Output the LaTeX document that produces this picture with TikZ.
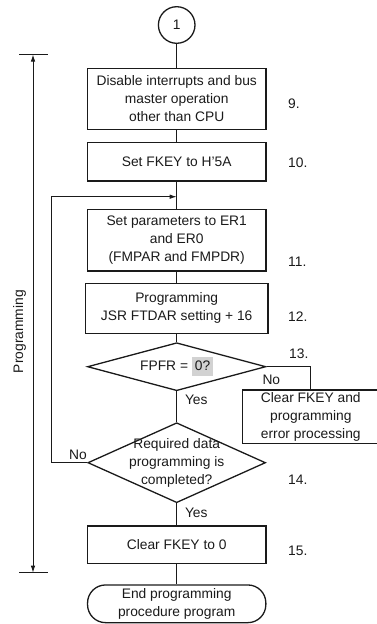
\documentclass[tikz,border=0pt]{standalone}
\usepackage{fontspec}
\setmainfont{Liberation Sans}
\usetikzlibrary{arrows.meta,shapes.geometric}
\definecolor{FlowInk}{HTML}{1A1A1A}
\definecolor{FlowMark}{HTML}{D2D2D2}
\newcommand{\hlmark}[1]{{\setlength{\fboxsep}{3pt}\colorbox{FlowMark}{\rule[-2.5pt]{0pt}{12.5pt}#1}}}
\begin{document}
\begin{tikzpicture}[
        x=1pt,y=-1pt,
        every node/.style={font=\fontsize{13.8}{18}\selectfont,text=FlowInk},
        box/.style={draw=FlowInk,line width=1.3pt,minimum width=178.3pt,align=center,inner sep=0pt},
        decision/.style={draw=FlowInk,line width=1.3pt,diamond,inner sep=0pt},
        terminal/.style={box,rounded corners=18pt},
        tag/.style={anchor=west,inner sep=0pt},
        flow/.style={draw=FlowInk,line width=0.9pt},
        back/.style={flow,-{Latex[length=7pt,width=4.5pt]}},
        span/.style={flow,{Latex[length=7pt,width=4.5pt]}-{Latex[length=7pt,width=4.5pt]}}
      ]
        \useasboundingbox (0,0) rectangle (377,624);
        \node[circle,draw=FlowInk,line width=1.3pt,minimum size=36.6pt,inner sep=0pt] (start) at (176.7,25) {1};
        \node[box,minimum height=61pt] (disable) at (176.7,98.8) {Disable interrupts and bus\\master operation\\other than CPU};
        \node[box,minimum height=38.3pt] (fkey) at (176.7,161.9) {Set FKEY to H'5A};
        \node[box,minimum height=61.7pt] (params) at (176.7,240.2) {Set parameters to ER1\\and ER0\\(FMPAR and FMPDR)};
        \node[box,minimum width=182.3pt,minimum height=50pt] (prog) at (176.7,308.3) {Programming\\JSR FTDAR setting + 16};
        \node[decision,minimum width=178.4pt,minimum height=48pt] (check) at (176.7,366.7) {};
        \node at (check) {FPFR = \hlmark{0?}};
        \node[box,minimum width=136.3pt,minimum height=53.7pt] (error) at (310.8,416.8) {Clear FKEY and\\programming\\error processing};
        \node[decision,minimum width=177.7pt,minimum height=80pt] (done) at (176.7,462.7) {};
        \node[align=center,inner sep=0pt] at (done) {Required data\\programming is\\completed?};
        \node[box,minimum height=37.3pt] (clear) at (176.7,544.7) {Clear FKEY to 0};
        \node[terminal,minimum height=37.7pt] (finish) at (176.7,603.8) {End programming\\procedure program};

        \coordinate (merge) at (176.7,196.7);
        \coordinate (loop) at (51,196.7);
        \coordinate (nobend) at (310.8,366.7);

        \draw[flow] (start) -- (disable);
        \draw[flow] (disable) -- (fkey);
        \draw[flow] (fkey) -- (params);
        \draw[flow] (params) -- (prog);
        \draw[flow] (prog) -- (check);
        \draw[flow] (check) -- (done);
        \draw[flow] (done) -- (clear);
        \draw[flow] (clear) -- (finish);
        \draw[flow] (check.east) -- (nobend) -- (error);
        \draw[back] (done.west) -| (loop) -- (merge);

        \node[tag] at (288,104) {9.};
        \node[tag] at (288,163) {10.};
        \node[tag] at (288,261.7) {11.};
        \node[tag] at (288,316.7) {12.};
        \node[tag] at (289,354) {13.};
        \node[tag] at (288,480) {14.};
        \node[tag] at (288,551) {15.};
        \node[tag] at (262.3,380) {No};
        \node[tag] at (184.8,400) {Yes};
        \node[tag] at (69,455) {No};
        \node[tag] at (184.8,512.7) {Yes};

        \coordinate (phase top) at (33,54.5);
        \coordinate (phase end) at (33,572.7);
        \draw[flow] (19,54.5) -- (48,54.5);
        \draw[flow] (19,572.7) -- (48,572.7);
        \draw[span] (phase top) -- (phase end);
        \node[rotate=90] (phase) at (19.5,331.7) {Programming};
      \end{tikzpicture}
\end{document}
